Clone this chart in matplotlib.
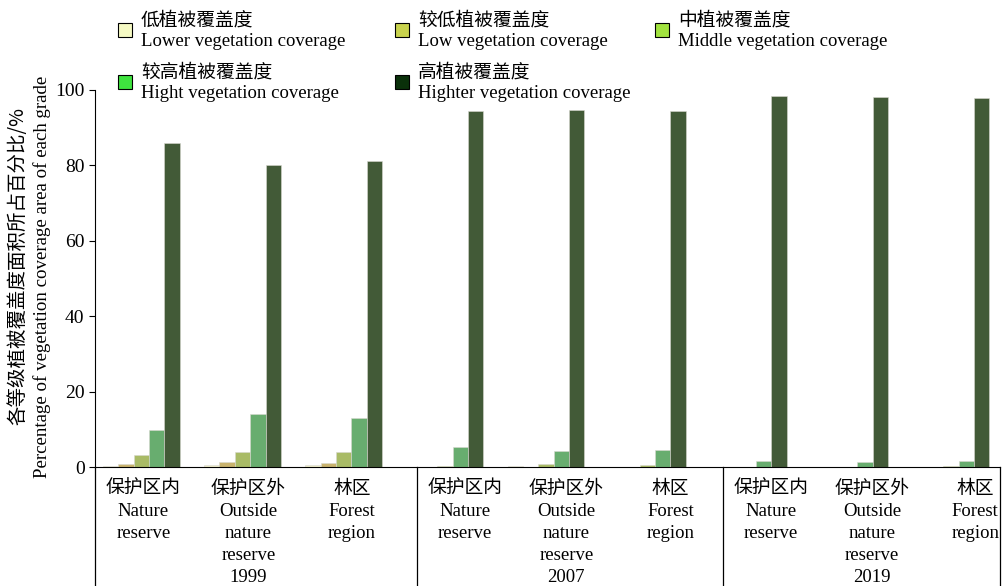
import numpy as np
import matplotlib.pyplot as plt
from matplotlib.patches import Rectangle

plt.rcParams['font.family'] = ['Liberation Serif', 'Noto Sans CJK SC']

years = ['1999', '2007', '2019']
regions = ['保护区内\nNature\nreserve', '保护区外\nOutside\nnature\nreserve', '林区\nForest\nregion']
grades = ['低植被覆盖度\nLower vegetation coverage',
          '较低植被覆盖度\nLow vegetation coverage',
          '中植被覆盖度\nMiddle vegetation coverage',
          '较高植被覆盖度\nHight vegetation coverage',
          '高植被覆盖度\nHighter vegetation coverage']

# values per grade, 9 groups (3 regions x 3 years)
lower   = [0.3, 0.5, 0.4, 0.0, 0.2, 0.1, 0.0, 0.0, 0.0]
low     = [0.7, 1.2, 1.0, 0.1, 0.1, 0.1, 0.0, 0.0, 0.0]
middle  = [3.3, 4.1, 3.9, 0.3, 0.8, 0.5, 0.0, 0.1, 0.2]
high    = [9.7, 14.1, 13.1, 5.4, 4.3, 4.6, 1.7, 1.3, 1.6]
highter = [85.9, 80.1, 81.2, 94.4, 94.7, 94.4, 98.4, 98.1, 97.9]

bar_colors = ['#f1f0cc', '#c9b36e', '#a9bb66', '#68ad6f', '#425a37']
legend_colors = ['#f6fac4', '#c9d34e', '#a2e33f', '#3fe33f', '#0a300a']

fig = plt.figure(figsize=(10.03, 5.86), dpi=100)
ax = fig.add_axes([95/1003, 119/586, 905/1003, 377/586])

x = np.arange(9)
w = 0.152
series = [lower, low, middle, high, highter]
for i, vals in enumerate(series):
    ax.bar(x + (i - 2) * w, vals, width=w, color=bar_colors[i],
           edgecolor='#d8d8d0', linewidth=0.4)

ax.set_xlim(-0.457, 8.486)
ax.set_ylim(0, 100)
ax.set_yticks([0, 20, 40, 60, 80, 100])
ax.tick_params(axis='y', direction='out', length=4, labelsize=14, width=0.8)
for s in ['top', 'right']:
    ax.spines[s].set_visible(False)

label_x = [0.02, 1.06, 2.08, 3.2, 4.2, 5.23, 6.22, 7.22, 8.24]
ax.set_xticks(label_x)
ax.set_xticklabels(regions * 3, fontsize=13.5, linespacing=1.38)
ax.tick_params(axis='x', length=0, pad=10)

trans = ax.get_xaxis_transform()
yb = -119/377
for sx in [-0.457, 2.725, 5.749, 8.486]:
    ax.plot([sx, sx], [0, yb], color='black', lw=0.9, transform=trans, clip_on=False)

for yr, xc in zip(years, [label_x[1], label_x[4], label_x[7]]):
    ax.text(xc, (467-578)/377, yr, transform=trans, ha='center', va='center', fontsize=13.5)

# y labels
fig.text(18/1003, 1-266/586, '各等级植被覆盖度面积所占百分比/%', rotation=90,
         ha='center', va='center', fontsize=14, family=['Noto Sans CJK SC', 'Liberation Serif'])
fig.text(42/1003, 1-277/586, 'Percentage of vegetation coverage area of each grade',
         rotation=90, ha='center', va='center', fontsize=13.6)

# legend
leg_pos = [(118, 30), (395, 30), (655, 30), (118, 82), (395, 82)]
for (px, py), lab, c in zip(leg_pos, grades, legend_colors):
    fig.add_artist(Rectangle((px/1003, 1-(py+7)/586), 14/1003, 14/586,
                             facecolor=c, edgecolor='black', lw=0.8,
                             transform=fig.transFigure))
    fig.text((px+23)/1003, 1-(py+1)/586, lab, ha='left', va='center',
             fontsize=13.5, linespacing=1.3)

fig.savefig('out.png', dpi=100)
